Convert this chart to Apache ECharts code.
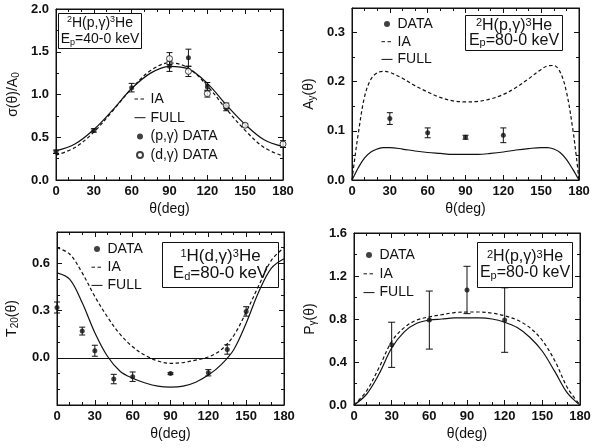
<!DOCTYPE html>
<html>
<head>
<meta charset="utf-8">
<title>Radiative capture observables</title>
<script src="https://cdn.jsdelivr.net/npm/echarts@6.0.0/dist/echarts.min.js"></script>
<style>
  html, body { margin: 0; padding: 0; background: #ffffff; }
  #chart { width: 592px; height: 448px; }
</style>
</head>
<body>
<div id="chart"></div>
<script>
// ---- sigma(theta)/A0 for 2H(p,gamma)3He, Ep = 40-0 keV ----
const sigmaTheta = [0, 15, 30, 45, 60, 75, 90, 105, 120, 135, 150, 165, 180];
const sigmaIA    = [0.29, 0.38, 0.56, 0.81, 1.07, 1.28, 1.37, 1.31, 1.10, 0.83, 0.58, 0.38, 0.28];
const sigmaFull  = [0.34, 0.42, 0.59, 0.82, 1.07, 1.25, 1.33, 1.30, 1.13, 0.88, 0.65, 0.47, 0.39];
const pgTheta    = [0, 30, 60, 90, 105, 120, 135];
const pgSigma    = [0.33, 0.58, 1.08, 1.33, 1.43, 1.09, 0.84];
const pgSigmaErr = [0.02, 0.02, 0.05, 0.06, 0.10, 0.05, 0.03];
const dgTheta    = [90, 105, 120, 135, 150, 180];
const dgSigma    = [1.42, 1.27, 1.01, 0.87, 0.64, 0.42];
const dgSigmaErr = [0.07, 0.06, 0.04, 0.03, 0.02, 0.04];

// ---- A_y(theta), 2H(p,gamma)3He, Ep = 80-0 keV ----
const ayTheta   = [0, 2, 5, 10, 15, 20, 25, 30, 40, 50, 60, 70, 80, 90, 100, 110, 120, 130, 140, 150, 155, 160, 165, 170, 175, 178, 180];
const ayIA      = [0, 0.04, 0.095, 0.17, 0.205, 0.218, 0.221, 0.219, 0.207, 0.192, 0.179, 0.168, 0.161, 0.159, 0.160, 0.165, 0.174, 0.188, 0.206, 0.225, 0.232, 0.233, 0.220, 0.180, 0.105, 0.045, 0];
const ayFull    = [0, 0.01, 0.025, 0.045, 0.057, 0.063, 0.066, 0.066, 0.063, 0.059, 0.056, 0.054, 0.052, 0.052, 0.052, 0.054, 0.057, 0.061, 0.064, 0.066, 0.066, 0.063, 0.056, 0.042, 0.022, 0.009, 0];
const ayDataTheta = [30, 60, 90, 120];
const ayData      = [0.125, 0.096, 0.087, 0.091];
const ayDataErr   = [0.012, 0.010, 0.004, 0.015];

// ---- T20(theta), 1H(d,gamma)3He, Ed = 80-0 keV ----
const t20Theta = [0, 10, 20, 30, 40, 50, 60, 70, 80, 90, 100, 110, 120, 130, 140, 150, 160, 170, 180];
const t20IA    = [0.70, 0.66, 0.54, 0.39, 0.26, 0.15, 0.07, 0.015, -0.02, -0.035, -0.03, -0.015, 0.005, 0.05, 0.14, 0.29, 0.46, 0.62, 0.70];
const t20Full  = [0.54, 0.50, 0.35, 0.16, 0.01, -0.085, -0.13, -0.16, -0.18, -0.186, -0.18, -0.155, -0.11, -0.045, 0.05, 0.22, 0.42, 0.57, 0.63];
const t20DataTheta = [0, 20, 30, 45, 60, 90, 120, 135, 150];
const t20Data      = [0.32, 0.17, 0.045, -0.135, -0.12, -0.10, -0.095, 0.053, 0.295];
const t20DataErr   = [0.035, 0.025, 0.035, 0.03, 0.03, 0.005, 0.02, 0.03, 0.03];

// ---- P_gamma(theta), 2H(p,gamma)3He, Ep = 80-0 keV ----
const polTheta = [0, 10, 20, 30, 40, 50, 60, 70, 80, 90, 100, 110, 120, 130, 140, 150, 160, 170, 180];
const polIA    = [0, 0.13, 0.35, 0.59, 0.72, 0.79, 0.82, 0.84, 0.86, 0.865, 0.865, 0.855, 0.83, 0.79, 0.72, 0.60, 0.41, 0.16, 0];
const polFull  = [0, 0.10, 0.29, 0.53, 0.68, 0.76, 0.79, 0.80, 0.81, 0.81, 0.81, 0.80, 0.77, 0.72, 0.63, 0.50, 0.31, 0.11, 0];
const polDataTheta = [30, 60, 90, 120];
const polData      = [0.56, 0.79, 1.07, 0.79];
const polDataErr   = [0.21, 0.27, 0.22, 0.30];

// ---- tick labels ----
const thetaTicks = ['0', '30', '60', '90', '120', '150', '180'];
const sigmaTicks = ['0.0', '0.5', '1.0', '1.5', '2.0'];
const ayTicks    = ['0.0', '0.1', '0.2', '0.3'];
const t20Ticks   = ['0.0', '0.3', '0.6'];
const polTicks   = ['0.0', '0.4', '0.8', '1.2', '1.6'];

const FONT = '"Liberation Sans", Arial, Helvetica, sans-serif';
const INK = '#111111';

const nameRich = {
  t:   { fontSize: 14, lineHeight: 16, fontFamily: FONT, color: INK },
  sub: { fontSize: 10, lineHeight: 7, verticalAlign: 'bottom', fontFamily: FONT, color: INK }
};

const panels = [
  { grid: { left: 56, top: 9, width: 227, height: 171 },
    y: { min: 0, max: 2.0, major: 0.5, minor: 0.25 }, yTicks: sigmaTicks,
    yName: '{t|σ(θ)/A}{sub|0}', yGap: 35 },
  { grid: { left: 352, top: 8, width: 227, height: 172 },
    y: { min: 0, max: 0.35, major: 0.1, minor: 0.05 }, yTicks: ayTicks,
    yName: '{t|A}{sub|y}{t|(θ)}', yGap: 35 },
  { grid: { left: 57, top: 232, width: 227, height: 173 },
    y: { min: -0.3, max: 0.8, major: 0.3, minor: 0.1 }, yTicks: t20Ticks,
    yName: '{t|T}{sub|20}{t|(θ)}', yGap: 37 },
  { grid: { left: 354, top: 233, width: 226, height: 172 },
    y: { min: 0, max: 1.6, major: 0.4, minor: 0.2 }, yTicks: polTicks,
    yName: '{t|P}{sub|γ}{t|(θ)}', yGap: 36 }
];
const thetaSpec = { min: 0, max: 180, major: 30, minor: 10 };

const xAxes = [], yAxes = [];
// Each side of a frame gets a major-tick axis and a minor-tick axis; only bottom/left carry labels.
function addAxes(list, dim, gi, spec, labels, name, gap) {
  const sides = dim === 'x' ? ['bottom', 'top'] : ['left', 'right'];
  let mainIndex = -1;
  sides.forEach((pos, s) => {
    [spec.major, spec.minor].forEach((step, k) => {
      const labelled = s === 0 && k === 0;
      if (labelled) mainIndex = list.length;
      list.push({
        type: 'value', gridIndex: gi, position: pos,
        min: spec.min, max: spec.max, interval: step,
        name: labelled ? name : '',
        nameLocation: 'middle', nameGap: gap,
        nameTextStyle: { fontSize: 14, fontFamily: FONT, color: INK, rich: nameRich },
        axisLine: { show: k === 0, onZero: false, lineStyle: { color: INK, width: 1 } },
        axisTick: { show: true, inside: true, length: k === 0 ? 5 : 3, lineStyle: { color: INK, width: 1 } },
        minorTick: { show: false },
        splitLine: { show: false },
        axisLabel: {
          show: labelled, margin: dim === 'x' ? 5 : 7,
          fontSize: 13, fontFamily: FONT, color: INK, fontWeight: 'bold',
          formatter: (v) => {
            const hit = labels.find(l => Math.abs(parseFloat(l) - v) < 1e-6);
            return hit === undefined ? '' : hit;
          }
        },
        silent: true
      });
    });
  });
  return mainIndex;
}

const X = [], Y = [];
panels.forEach((p, gi) => {
  X[gi] = addAxes(xAxes, 'x', gi, thetaSpec, thetaTicks, 'θ(deg)', 22);
  Y[gi] = addAxes(yAxes, 'y', gi, p.y, p.yTicks, p.yName, p.yGap);
});

function curve(name, gi, xs, ys, dashed) {
  return {
    type: 'line', name, xAxisIndex: X[gi], yAxisIndex: Y[gi],
    data: xs.map((x, i) => [x, ys[i]]),
    smooth: 0.35, symbol: 'none', showSymbol: false, silent: true, z: 3,
    lineStyle: { color: INK, width: 1.2, type: dashed ? [3.5, 2.5] : 'solid' },
    itemStyle: { color: INK }
  };
}
function points(name, gi, xs, ys, open) {
  return {
    type: 'scatter', name, xAxisIndex: X[gi], yAxisIndex: Y[gi],
    data: xs.map((x, i) => [x, ys[i]]),
    symbol: 'circle', symbolSize: open ? 6 : 5, silent: true, z: 6,
    itemStyle: open ? { color: '#ffffff', borderColor: INK, borderWidth: 1 } : { color: INK }
  };
}
function errorBars(gi, xs, ys, es, cap) {
  return {
    type: 'custom', name: 'errors-' + gi + '-' + xs.length, xAxisIndex: X[gi], yAxisIndex: Y[gi],
    data: xs.map((x, i) => [x, ys[i], es[i]]),
    encode: { x: 0, y: 1 }, clip: false, silent: true, z: 5,
    renderItem: (params, api) => {
      const x = api.value(0), y = api.value(1), e = api.value(2);
      const hi = api.coord([x, y + e]), lo = api.coord([x, y - e]);
      const st = { stroke: INK, lineWidth: 1 };
      return { type: 'group', children: [
        { type: 'line', shape: { x1: hi[0], y1: hi[1], x2: lo[0], y2: lo[1] }, style: st },
        { type: 'line', shape: { x1: hi[0] - cap, y1: hi[1], x2: hi[0] + cap, y2: hi[1] }, style: st },
        { type: 'line', shape: { x1: lo[0] - cap, y1: lo[1], x2: lo[0] + cap, y2: lo[1] }, style: st }
      ]};
    }
  };
}

const zeroLine = {
  silent: true, symbol: 'none', label: { show: false },
  lineStyle: { color: INK, width: 1, type: 'solid' },
  data: [{ yAxis: 0 }]
};

const series = [
  curve('IA', 0, sigmaTheta, sigmaIA, true),
  curve('FULL', 0, sigmaTheta, sigmaFull, false),
  errorBars(0, pgTheta, pgSigma, pgSigmaErr, 3),
  errorBars(0, dgTheta, dgSigma, dgSigmaErr, 3),
  points('(p,γ) DATA', 0, pgTheta, pgSigma, false),
  points('(d,γ) DATA', 0, dgTheta, dgSigma, true),

  curve('IA', 1, ayTheta, ayIA, true),
  curve('FULL', 1, ayTheta, ayFull, false),
  errorBars(1, ayDataTheta, ayData, ayDataErr, 3),
  points('DATA', 1, ayDataTheta, ayData, false),

  Object.assign(curve('IA', 2, t20Theta, t20IA, true), { markLine: zeroLine }),
  curve('FULL', 2, t20Theta, t20Full, false),
  errorBars(2, t20DataTheta, t20Data, t20DataErr, 3),
  points('DATA', 2, t20DataTheta, t20Data, false),

  curve('IA', 3, polTheta, polIA, true),
  curve('FULL', 3, polTheta, polFull, false),
  errorBars(3, polDataTheta, polData, polDataErr, 3.5),
  points('DATA', 3, polDataTheta, polData, false)
];

// Line entries show only their stroke in the key
const lineOnly = { color: 'rgba(0,0,0,0)', borderColor: 'rgba(0,0,0,0)', borderWidth: 0 };
function key(left, top, gap, names) {
  return {
    orient: 'vertical', left, top, itemGap: gap, itemWidth: 11, itemHeight: 6, padding: 0,
    selectedMode: false,
    lineStyle: { width: 1 },
    textStyle: { fontSize: 14, lineHeight: 16, fontFamily: FONT, color: INK },
    data: names.map(n => (n === 'IA' || n === 'FULL') ? { name: n, itemStyle: lineOnly } : { name: n })
  };
}

// Framed reaction label: rectangle plus two centred rich-text lines
function box(x, y, w, h, text, fs, lh) {
  const small = Math.round(fs * 0.66);
  const tok = (size, extra) => Object.assign({ fontSize: size, fontFamily: FONT, fill: INK, align: 'center' }, extra);
  return {
    type: 'group', x, y, silent: true,
    children: [
      { type: 'rect', shape: { x: 0.5, y: 0.5, width: w, height: h },
        style: { fill: 'transparent', stroke: INK, lineWidth: 1 } },
      { type: 'text', x: w / 2 + 0.5, y: h / 2 + 0.5,
        style: {
          text, align: 'center', verticalAlign: 'middle',
          fontSize: fs, fontFamily: FONT, fill: INK, lineHeight: lh,
          rich: {
            t:   tok(fs, { lineHeight: lh }),
            sup: tok(small, { lineHeight: 6, verticalAlign: 'top' }),
            sub: tok(small, { lineHeight: 8, verticalAlign: 'bottom' })
          }
        } }
    ]
  };
}

const option = {
  animation: false,
  backgroundColor: '#ffffff',
  grid: panels.map(p => Object.assign({ show: true, borderColor: INK, borderWidth: 1, backgroundColor: 'transparent', outerBoundsMode: 'none' }, p.grid)),
  xAxis: xAxes,
  yAxis: yAxes,
  graphic: [
    box(58, 13, 83, 35, '{t|}{sup|2}{t|H(p,γ)}{sup|3}{t|He}\n{t|E}{sub|p}{t|=40-0 keV}', 14, 16),
    box(465, 15, 97, 35, '{t|}{sup|2}{t|H(p,γ)}{sup|3}{t|He}\n{t|E}{sub|p}{t|=80-0 keV}', 16, 15.5),
    box(162, 242, 116, 45, '{t|}{sup|1}{t|H(d,γ)}{sup|3}{t|He}\n{t|E}{sub|d}{t|=80-0 keV}', 17, 17),
    box(477, 242, 95, 45, '{t|}{sup|2}{t|H(p,γ)}{sup|3}{t|He}\n{t|E}{sub|p}{t|=80-0 keV}', 16, 16)
  ],
  legend: [
    key(134, 91, 2.7, ['IA', 'FULL', '(p,γ) DATA', '(d,γ) DATA']),
    key(381, 16, 1.7, ['DATA', 'IA', 'FULL']),
    key(91, 241, 2.2, ['DATA', 'IA', 'FULL']),
    key(363, 247, 2.8, ['DATA', 'IA', 'FULL'])
  ],
  series
};

const chart = echarts.init(document.getElementById('chart'), null, { renderer: 'canvas' });
chart.setOption(option);
</script>
</body>
</html>
